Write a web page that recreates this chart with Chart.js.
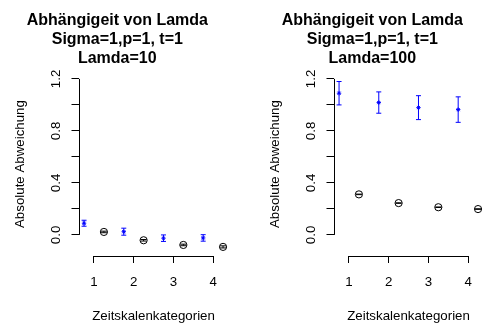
<!DOCTYPE html>
<html lang="de">
<head>
<meta charset="UTF-8">
<title>Abhängigeit von Lamda</title>
<script src="https://cdn.jsdelivr.net/npm/chart.js"></script>
<style>
    body { margin: 0; background: #fff; }
    .wrap { position: relative; width: 503px; height: 327px; }
    .panel { position: absolute; top: 0; height: 327px; }
    #left { left: 0; width: 251px; }
    #right { left: 255px; width: 248px; }
</style>
</head>
<body>
<div class="wrap">
    <div class="panel" id="left"><canvas id="chartLeft"></canvas></div>
    <div class="panel" id="right"><canvas id="chartRight"></canvas></div>
</div>
<script>
// categories and ticks
const categories = [1, 2, 3, 4];
const yTicks = [0, 0.2, 0.4, 0.6, 0.8, 1.0, 1.2];
const yLabelled = [0, 0.4, 0.8, 1.2];

// Lamda = 10
const blue10 = [0.09, 0.025, -0.025, -0.023];
const blue10Err = [0.023, 0.027, 0.025, 0.025];
const black10 = [0.023, -0.041, -0.077, -0.092];
const black10Err = [0.006, 0.006, 0.006, 0.008];

// Lamda = 100
const blue100 = [1.09, 1.018, 0.979, 0.964];
const blue100Err = [0.09, 0.082, 0.092, 0.098];
const black100 = [0.312, 0.245, 0.213, 0.199];
const black100Err = [0.002, 0.002, 0.002, 0.002];

const font = "'Liberation Sans', Arial, sans-serif";

// error bars + R style axis lines (only over the tick range)
const errorBars = {
    id: 'errorBars',
    afterDatasetsDraw(chart) {
        const ctx = chart.ctx;
        const xs = chart.scales.x, ys = chart.scales.y;
        ctx.save();
        chart.data.datasets.forEach(ds => {
            ctx.strokeStyle = ds.borderColor;
            ctx.lineWidth = 1;
            ds.data.forEach((p, i) => {
                const e = ds.errors[i];
                const px = xs.getPixelForValue(p.x);
                const top = ys.getPixelForValue(p.y + e);
                const bot = ys.getPixelForValue(p.y - e);
                const w = ds.capWidth;
                ctx.beginPath();
                ctx.moveTo(px, top); ctx.lineTo(px, bot);
                ctx.moveTo(px - w, top); ctx.lineTo(px + w, top);
                ctx.moveTo(px - w, bot); ctx.lineTo(px + w, bot);
                ctx.stroke();
            });
        });
        // axes
        ctx.strokeStyle = '#000';
        ctx.lineWidth = 1;
        const left = Math.round(chart.chartArea.left) + 0.5;
        const bottom = Math.round(chart.chartArea.bottom) + 0.5;
        ctx.beginPath();
        ctx.moveTo(left, ys.getPixelForValue(0));
        ctx.lineTo(left, ys.getPixelForValue(1.2));
        ctx.moveTo(xs.getPixelForValue(1), bottom);
        ctx.lineTo(xs.getPixelForValue(4), bottom);
        ctx.stroke();
        ctx.restore();
    }
};

function makeChart(id, lamda, blue, blueErr, black, blackErr, padRight) {
    return new Chart(document.getElementById(id), {
        type: 'scatter',
        data: {
            datasets: [
                {
                    data: categories.map((c, i) => ({ x: c - 0.25, y: blue[i] })),
                    errors: blueErr,
                    capWidth: 2.5,
                    borderColor: '#0000ff',
                    backgroundColor: '#0000ff',
                    pointStyle: 'star',
                    pointRadius: 2.2,
                    borderWidth: 1
                },
                {
                    data: categories.map((c, i) => ({ x: c + 0.25, y: black[i] })),
                    errors: blackErr,
                    capWidth: 3,
                    borderColor: '#000',
                    backgroundColor: 'rgba(0,0,0,0)',
                    pointStyle: 'circle',
                    pointRadius: 3.6,
                    borderWidth: 1
                }
            ]
        },
        options: {
            responsive: false,
            animation: false,
            events: [],
            layout: { padding: { left: 6, right: padRight, top: 0, bottom: 0 } },
            plugins: {
                legend: { display: false },
                tooltip: { enabled: false },
                title: {
                    display: true,
                    text: ['Abhängigeit von Lamda', 'Sigma=1,p=1, t=1', 'Lamda=' + lamda],
                    color: '#000',
                    font: { family: font, size: 16, weight: 'bold', lineHeight: 1.18 },
                    padding: { top: 11.5, bottom: 4 }
                }
            },
            scales: {
                x: {
                    type: 'linear',
                    min: 0.61,
                    max: 4.39,
                    afterBuildTicks: s => { s.ticks = categories.map(v => ({ value: v })); },
                    afterFit: s => { s.height = 71; },
                    grid: { drawOnChartArea: false, drawTicks: true, tickLength: 7, color: '#000' },
                    border: { display: false },
                    ticks: { color: '#000', font: { family: font, size: 13.3 }, padding: 11, maxRotation: 0 },
                    title: {
                        display: true,
                        text: 'Zeitskalenkategorien',
                        color: '#000',
                        font: { family: font, size: 13.3 },
                        padding: { top: 18, bottom: 3 }
                    }
                },
                y: {
                    type: 'linear',
                    min: -0.162,
                    max: 1.252,
                    afterBuildTicks: s => { s.ticks = yTicks.map(v => ({ value: v })); },
                    afterFit: s => { s.width = 72.5; },
                    grid: { drawOnChartArea: false, drawTicks: true, tickLength: 7, color: '#000' },
                    border: { display: false },
                    ticks: {
                        color: '#000',
                        font: { family: font, size: 13.3 },
                        minRotation: 90,
                        maxRotation: 90,
                        crossAlign: 'center',
                        padding: 6,
                        callback: v => yLabelled.some(l => Math.abs(l - v) < 1e-9) ? v.toFixed(1) : ''
                    },
                    title: {
                        display: true,
                        text: 'Absolute Abweichung',
                        color: '#000',
                        font: { family: font, size: 13.3 },
                        padding: { top: 6, bottom: 0 }
                    }
                }
            }
        },
        plugins: [errorBars]
    });
}

function sizeCanvas(id, w, h) {
    const c = document.getElementById(id);
    c.width = w; c.height = h;
    c.style.width = w + 'px'; c.style.height = h + 'px';
}
sizeCanvas('chartLeft', 251, 327);
sizeCanvas('chartRight', 248, 327);

makeChart('chartLeft', 10, blue10, blue10Err, black10, black10Err, 22.4);
makeChart('chartRight', 100, blue100, blue100Err, black100, black100Err, 19.4);
</script>
</body>
</html>
